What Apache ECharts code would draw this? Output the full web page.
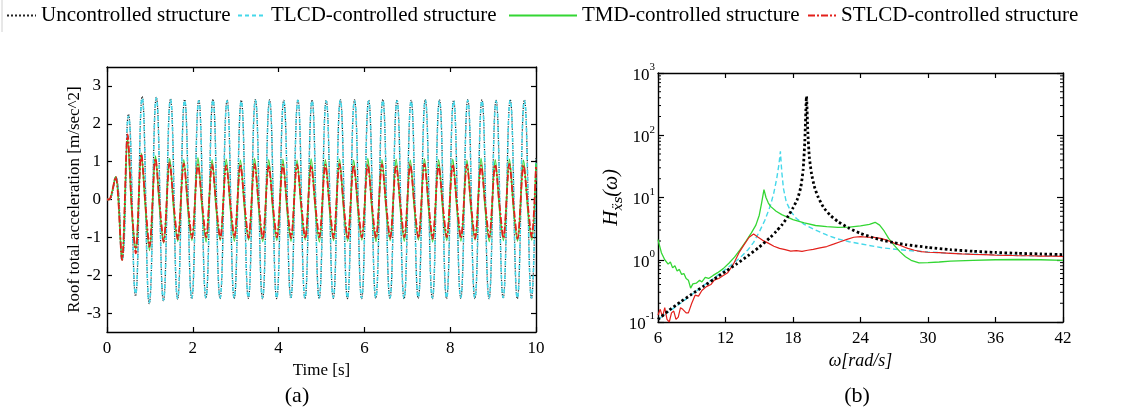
<!DOCTYPE html>
<html><head><meta charset="utf-8">
<script src="https://cdn.jsdelivr.net/npm/echarts@6/dist/echarts.min.js"></script>
<style>html,body{margin:0;padding:0;background:#fff}#c{width:1136px;height:413px}</style>
</head><body><div id="c"></div>
<script>
// ---------- Panel (a): roof total acceleration time history (extrema) ----------
const startTimes  = [0, 0.05, 0.2, 0.35];
const startValues = [0, 0, 0.6, -1.6];
const peakTimes   = [0.50, 0.82, 1.15, 1.48, 1.81, 2.14, 2.47, 2.80, 3.13, 3.46, 3.79, 4.12, 4.45, 4.78, 5.11,
                     5.44, 5.77, 6.10, 6.43, 6.76, 7.09, 7.42, 7.75, 8.08, 8.41, 8.74, 9.07, 9.40, 9.73];
const troughTimes = [0.665, 0.985, 1.315, 1.645, 1.975, 2.305, 2.635, 2.965, 3.295, 3.625, 3.955, 4.285, 4.615, 4.945, 5.275,
                     5.605, 5.935, 6.265, 6.595, 6.925, 7.255, 7.585, 7.915, 8.245, 8.575, 8.905, 9.235, 9.565, 9.895];
const endTime = 10;
const ctrlPeakShift = -0.02, ctrlKneeShift = 0.08, ctrlTroughShift = 0.17;

const uncPeaks   = [2.25, 2.72, 2.70, 2.66, 2.64, 2.63, 2.65, 2.63, 2.62, 2.64, 2.63, 2.62, 2.64, 2.63, 2.62,
                    2.64, 2.63, 2.62, 2.64, 2.63, 2.62, 2.64, 2.63, 2.62, 2.64, 2.63, 2.62, 2.64, 2.63];
const uncTroughs = [-2.55, -2.75, -2.68, -2.63, -2.62, -2.61, -2.62, -2.62, -2.61, -2.62, -2.62, -2.61, -2.62, -2.62, -2.61,
                    -2.62, -2.62, -2.61, -2.62, -2.62, -2.61, -2.62, -2.62, -2.61, -2.62, -2.62, -2.61, -2.62, -2.62];
const uncEnd = 1.1;

const tlcdPeaks   = [2.20, 2.68, 2.68, 2.64, 2.62, 2.61, 2.63, 2.61, 2.60, 2.62, 2.61, 2.60, 2.62, 2.61, 2.60,
                     2.62, 2.61, 2.60, 2.62, 2.61, 2.60, 2.62, 2.61, 2.60, 2.62, 2.61, 2.60, 2.62, 2.61];
const tlcdTroughs = [-2.50, -2.72, -2.66, -2.61, -2.60, -2.59, -2.60, -2.60, -2.59, -2.60, -2.60, -2.59, -2.60, -2.60, -2.59,
                     -2.60, -2.60, -2.59, -2.60, -2.60, -2.59, -2.60, -2.60, -2.59, -2.60, -2.60, -2.59, -2.60, -2.60];
const tlcdEnd = 1.05;

const tmdPeaks   = [1.62, 1.22, 1.15, 1.08, 1.05, 1.10, 1.05, 1.06, 1.04, 1.08, 1.05, 1.06, 1.04, 1.07, 1.05,
                    1.06, 1.04, 1.08, 1.05, 1.06, 1.04, 1.07, 1.05, 1.06, 1.04, 1.08, 1.05, 1.06, 1.04];
const tmdKnees   = [-0.35, -0.30, -0.28, -0.32, -0.30, -0.27, -0.31, -0.29, -0.30, -0.28, -0.32, -0.30, -0.27, -0.31, -0.29,
                    -0.30, -0.28, -0.32, -0.30, -0.27, -0.31, -0.29, -0.30, -0.28, -0.32, -0.30, -0.27, -0.31, -0.29];
const tmdTroughs = [-1.32, -1.35, -1.15, -1.10, -1.08, -1.12, -1.08, -1.10, -1.07, -1.11, -1.08, -1.10, -1.07, -1.12, -1.08,
                    -1.10, -1.07, -1.11, -1.08, -1.10, -1.07, -1.12, -1.08, -1.10, -1.07, -1.11, -1.08, -1.10, -1.07];
const tmdEnd = 0.95;

const stlcdPeaks   = [1.72, 1.20, 1.08, 0.98, 0.95, 0.92, 0.93, 0.90, 0.92, 0.94, 0.90, 0.92, 0.93, 0.90, 0.92,
                      0.94, 0.90, 0.92, 0.93, 0.90, 0.92, 0.94, 0.90, 0.92, 0.93, 0.90, 0.92, 0.94, 0.90];
const stlcdKnees   = [-0.25, -0.18, -0.15, -0.20, -0.17, -0.14, -0.19, -0.16, -0.18, -0.15, -0.20, -0.17, -0.14, -0.19, -0.16,
                      -0.18, -0.15, -0.20, -0.17, -0.14, -0.19, -0.16, -0.18, -0.15, -0.20, -0.17, -0.14, -0.19, -0.16];
const stlcdTroughs = [-1.42, -1.25, -1.12, -1.05, -1.02, -1.00, -1.03, -1.00, -1.02, -1.04, -1.00, -1.02, -1.03, -1.00, -1.02,
                      -1.04, -1.00, -1.02, -1.03, -1.00, -1.02, -1.04, -1.00, -1.02, -1.03, -1.00, -1.02, -1.04, -1.00];
const stlcdEnd = 0.9;

const accTicks = [-3, -2, -1, 0, 1, 2, 3];

// ---------- Panel (b): frequency response ----------
const uncW = [6,7,8,9,10,11,12,13,14,15,16,16.5,17,17.5,18,18.4,18.7,18.9,19.05,19.2,19.32,19.45,19.65,19.9,20.2,20.7,21.3,22,23,24,25,26,27,28,30,32,34,36,38,40,42];
const uncH = [0.11,0.155,0.21,0.28,0.37,0.49,0.65,0.86,1.16,1.6,2.3,2.85,3.6,4.8,6.8,9.5,15,28,80,420,110,45,24,15,10.5,7,5.2,4.1,3.2,2.65,2.3,2.05,1.88,1.75,1.58,1.45,1.37,1.31,1.27,1.24,1.21];

const tlcdW = [6,8,10,11,12,13,13.5,14,14.5,15,15.5,16,16.3,16.55,16.75,16.88,17.0,17.15,17.4,17.8,18.3,19,20,21,22,23,24,26,28,30,33,36,39,42];
const tlcdH = [0.11,0.2,0.38,0.51,0.7,0.97,1.17,1.45,1.9,2.8,4.3,7.5,12,20,34,55,26,14,8.5,6.0,4.6,3.7,3.0,2.5,2.15,1.95,1.8,1.55,1.42,1.33,1.25,1.2,1.16,1.14];

const tmdW = [6,6.3,6.6,6.9,7.1,7.3,7.5,7.7,7.9,8.1,8.3,8.5,8.7,8.9,9.1,9.4,9.7,9.9,10.2,10.5,10.9,11.3,11.8,12.3,12.8,13.3,13.8,14.3,14.7,15.0,15.2,15.42,15.6,15.8,16.0,16.5,17,18,19,20,21,22,23,24,24.8,25.3,25.7,26.1,26.5,27,27.5,28,28.5,29.2,30,31,32,34,36,38,40,42];
const tmdH = [2.1,1.3,1.0,0.85,0.92,0.74,0.8,0.66,0.7,0.58,0.6,0.5,0.47,0.35,0.41,0.42,0.47,0.44,0.52,0.5,0.56,0.62,0.72,0.88,1.1,1.45,1.95,2.7,3.6,5.2,8.0,13.4,10,8.2,7.2,6.0,5.3,4.4,3.9,3.55,3.4,3.3,3.35,3.5,3.7,4.0,3.6,2.9,2.2,1.7,1.35,1.12,0.98,0.89,0.9,0.92,0.95,0.98,1.0,1.01,1.0,0.98];

const stW = [6,6.2,6.4,6.6,6.8,7.0,7.2,7.4,7.6,7.8,8.0,8.2,8.5,8.7,9.0,9.3,9.6,9.9,10.3,10.7,11.0,11.4,11.8,12.2,12.7,13.2,13.7,14.1,14.5,14.9,15.3,15.8,16.3,16.8,17.3,17.8,18.3,18.8,19.3,19.8,20.4,21,21.6,22.2,22.8,23.4,24,24.6,25.2,25.8,26.4,27,27.6,28.2,28.8,29.4,30,31,32,33,34,35,36,37,38,39,40,41,42];
const stH = [0.13,0.16,0.12,0.17,0.11,0.1,0.14,0.15,0.11,0.12,0.17,0.16,0.14,0.14,0.2,0.27,0.26,0.32,0.37,0.4,0.47,0.5,0.56,0.62,0.85,1.3,1.8,2.3,2.6,2.3,2.05,1.85,1.65,1.52,1.45,1.38,1.4,1.36,1.42,1.47,1.55,1.63,1.78,1.95,2.12,2.3,2.35,2.3,2.28,2.2,2.05,1.85,1.68,1.52,1.42,1.35,1.32,1.3,1.27,1.24,1.22,1.21,1.19,1.18,1.16,1.16,1.14,1.14,1.13];

const minorTickValues = [0.2,0.3,0.4,0.5,0.6,0.7,0.8,0.9, 2,3,4,5,6,7,8,9, 20,30,40,50,60,70,80,90, 200,300,400,500,600,700,800,900];

const names = ['Uncontrolled structure', 'TLCD-controlled structure', 'TMD-controlled structure', 'STLCD-controlled structure'];

// ---------- builders ----------
function buildOsc(peaks, troughs, endVal) {
  const d = startTimes.map((t, i) => [t, startValues[i]]);
  for (let i = 0; i < peakTimes.length; i++) {
    d.push([peakTimes[i], peaks[i]]);
    d.push([troughTimes[i], troughs[i]]);
  }
  d.push([endTime, endVal]);
  return d;
}
function buildCtrl(peaks, knees, troughs, endVal) {
  const d = startTimes.map((t, i) => [t, startValues[i]]);
  for (let i = 0; i < peakTimes.length; i++) {
    d.push([peakTimes[i] + ctrlPeakShift, peaks[i]]);
    d.push([peakTimes[i] + ctrlKneeShift, knees[i]]);
    d.push([peakTimes[i] + ctrlTroughShift, troughs[i]]);
  }
  d.push([endTime, endVal]);
  return d;
}
const zip = (a, b) => a.map((v, i) => [v, b[i]]);

const SERIF = 'Liberation Serif, Times New Roman, DejaVu Serif, serif';
const BLACK = '#000', CYAN = '#45d8ea', GREEN = '#33d633', RED = '#e3201b';

const axisLine = { onZero: false, lineStyle: { color: '#000', width: 1.4 } };
const tickIn = { inside: true, length: 5, lineStyle: { color: '#000', width: 1.2 } };
const lab = { color: '#000', fontSize: 17, fontFamily: SERIF };

const chart = echarts.init(document.getElementById('c'), null, { renderer: 'canvas' });

const option = {
  animation: false,
  backgroundColor: '#fff',
  legend: [
    { left: 6, top: 5, itemWidth: 29, itemHeight: 12, data: [names[0]] },
    { left: 237, top: 5, itemWidth: 28, itemHeight: 12, data: [names[1]] },
    { left: 508, top: 5, itemWidth: 68, itemHeight: 12, data: [names[2]] },
    { left: 807, top: 5, itemWidth: 28, itemHeight: 12, data: [names[3]] }
  ].map(l => Object.assign(l, { selectedMode: false, padding: 0, itemGap: 0,
      itemStyle: { opacity: 0 },
      textStyle: { color: '#000', fontSize: 21, fontFamily: SERIF } })),
  grid: [
    { left: 107, top: 67, width: 429, height: 265 },
    { left: 658, top: 73, width: 405, height: 249 }
  ],
  xAxis: [
    { gridIndex: 0, type: 'value', min: 0, max: 10, interval: 2, position: 'bottom',
      axisLine, axisTick: tickIn, splitLine: { show: false },
      axisLabel: Object.assign({ margin: 8 }, lab),
      name: 'Time [s]', nameLocation: 'middle', nameGap: 25,
      nameTextStyle: { color: '#000', fontSize: 17, fontFamily: SERIF } },
    { gridIndex: 0, type: 'value', min: 0, max: 10, interval: 2, position: 'top',
      axisLine, axisTick: tickIn, splitLine: { show: false }, axisLabel: { show: false } },
    { gridIndex: 1, type: 'value', min: 6, max: 42, interval: 6, position: 'bottom',
      axisLine, axisTick: tickIn, splitLine: { show: false },
      axisLabel: Object.assign({ margin: 8 }, lab),
      name: 'ω[rad/s]', nameLocation: 'middle', nameGap: 25,
      nameTextStyle: { color: '#000', fontSize: 18, fontStyle: 'italic', fontFamily: SERIF } },
    { gridIndex: 1, type: 'value', min: 6, max: 42, interval: 6, position: 'top',
      axisLine, axisTick: tickIn, splitLine: { show: false }, axisLabel: { show: false } }
  ],
  yAxis: [
    { gridIndex: 0, type: 'value', min: -3.5, max: 3.5, splitNumber: 7, position: 'left',
      axisLine, axisTick: Object.assign({ customValues: accTicks }, tickIn), splitLine: { show: false },
      axisLabel: Object.assign({ margin: 6, customValues: accTicks }, lab),
      name: 'Roof total acceleration [m/sec^2]', nameLocation: 'middle', nameGap: 22,
      nameTextStyle: { color: '#000', fontSize: 17, fontFamily: SERIF } },
    { gridIndex: 0, type: 'value', min: -3.5, max: 3.5, splitNumber: 7, position: 'right',
      axisLine, axisTick: Object.assign({ customValues: accTicks }, tickIn), splitLine: { show: false },
      axisLabel: { show: false } },
    { gridIndex: 1, type: 'log', logBase: 10, min: 0.1, max: 1000, splitNumber: 4, position: 'left',
      axisLine, axisTick: Object.assign({}, tickIn, { length: 6 }), splitLine: { show: false },
      axisLabel: {
        margin: 3, color: '#000', fontFamily: SERIF,
        formatter: v => '{b|10}{s|' + Math.round(Math.log10(v)) + '}',
        rich: {
          b: { fontSize: 17, fontFamily: SERIF, color: '#000', lineHeight: 22, verticalAlign: 'bottom' },
          s: { fontSize: 11, fontFamily: SERIF, color: '#000', lineHeight: 22, verticalAlign: 'top' }
        }
      },
      name: '{h|H}{s|ẍ}{s|s}{w|(ω)}', nameLocation: 'middle', nameGap: 33, nameRotate: 90,
      nameTextStyle: {
        color: '#000', fontFamily: SERIF,
        rich: {
          h: { fontSize: 21, fontStyle: 'italic', fontFamily: SERIF, color: '#000', lineHeight: 26, verticalAlign: 'middle' },
          s: { fontSize: 13, fontStyle: 'italic', fontFamily: 'DejaVu Serif, ' + SERIF, color: '#000', lineHeight: 26, verticalAlign: 'bottom' },
          w: { fontSize: 20, fontStyle: 'italic', fontFamily: SERIF, color: '#000', lineHeight: 26, verticalAlign: 'middle' }
        }
      } },
    { gridIndex: 1, type: 'log', logBase: 10, min: 0.1, max: 1000, splitNumber: 4, position: 'right',
      axisLine, axisTick: Object.assign({}, tickIn, { length: 6 }), splitLine: { show: false },
      axisLabel: { show: false } }
  ],
  graphic: [
    { type: 'line', shape: { x1: 2, y1: 0, x2: 2, y2: 32 }, style: { stroke: '#d0d0d0', lineWidth: 1 } },
    { type: 'text', x: 297, y: 396, style: { text: '(a)', fontSize: 22, fontFamily: SERIF, fill: '#000', textAlign: 'center', textVerticalAlign: 'middle' } },
    { type: 'text', x: 857, y: 396, style: { text: '(b)', fontSize: 22, fontFamily: SERIF, fill: '#000', textAlign: 'center', textVerticalAlign: 'middle' } }
  ],
  series: [
    // panel (a)
    { name: names[0], type: 'line', xAxisIndex: 0, yAxisIndex: 0, symbol: 'none', smooth: 0.5,
      data: buildOsc(uncPeaks, uncTroughs, uncEnd), itemStyle: { color: BLACK },
      lineStyle: { color: '#222', width: 1.2, type: 'dotted' } },
    { name: names[1], type: 'line', xAxisIndex: 0, yAxisIndex: 0, symbol: 'none', smooth: 0.5,
      data: buildOsc(tlcdPeaks, tlcdTroughs, tlcdEnd), itemStyle: { color: CYAN },
      lineStyle: { color: CYAN, width: 1.6, type: [4, 3] } },
    { name: names[2], type: 'line', xAxisIndex: 0, yAxisIndex: 0, symbol: 'none', smooth: 0.3,
      data: buildCtrl(tmdPeaks, tmdKnees, tmdTroughs, tmdEnd), itemStyle: { color: GREEN },
      lineStyle: { color: GREEN, width: 1.5 } },
    { name: names[3], type: 'line', xAxisIndex: 0, yAxisIndex: 0, symbol: 'none', smooth: 0.3,
      data: buildCtrl(stlcdPeaks, stlcdKnees, stlcdTroughs, stlcdEnd), itemStyle: { color: RED },
      lineStyle: { color: RED, width: 1.8, type: [7, 2, 2, 2] } },
    // panel (b)
    { name: names[1], type: 'line', xAxisIndex: 2, yAxisIndex: 2, symbol: 'none',
      data: zip(tlcdW, tlcdH), itemStyle: { color: CYAN }, lineStyle: { color: CYAN, width: 1.4, type: [5, 3] } },
    { name: names[2], type: 'line', xAxisIndex: 2, yAxisIndex: 2, symbol: 'none',
      data: zip(tmdW, tmdH), itemStyle: { color: GREEN }, lineStyle: { color: GREEN, width: 1.3 } },
    { name: names[3], type: 'line', xAxisIndex: 2, yAxisIndex: 2, symbol: 'none',
      data: zip(stW, stH), itemStyle: { color: RED }, lineStyle: { color: RED, width: 1.2 } },
    { name: names[0], type: 'line', xAxisIndex: 2, yAxisIndex: 2, symbol: 'none', smooth: 0.2,
      data: zip(uncW, uncH), itemStyle: { color: BLACK }, lineStyle: { color: BLACK, width: 2.8, type: [2.5, 2.5] } },
    // minor log ticks on both vertical frame sides
    { type: 'custom', xAxisIndex: 2, yAxisIndex: 2, silent: true, tooltip: { show: false },
      data: minorTickValues.map(v => [6, v]), encode: { x: 0, y: 1 },
      renderItem: function (params, api) {
        const v = api.value(1);
        const pL = api.coord([6, v]);
        const pR = api.coord([42, v]);
        return { type: 'group', children: [
          { type: 'line', shape: { x1: pL[0], y1: pL[1], x2: pL[0] + 3, y2: pL[1] }, style: { stroke: '#000', lineWidth: 1 } },
          { type: 'line', shape: { x1: pR[0], y1: pR[1], x2: pR[0] - 3, y2: pR[1] }, style: { stroke: '#000', lineWidth: 1 } }
        ] };
      } }
  ]
};
chart.setOption(option);
</script>
</body></html>
